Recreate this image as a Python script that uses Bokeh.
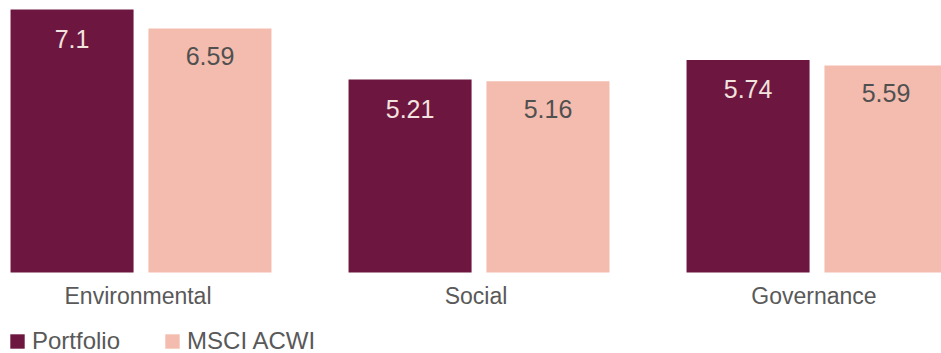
from bokeh.plotting import figure
from bokeh.models import ColumnDataSource, Range1d, Legend, LegendItem
from bokeh.core.properties import value
from bokeh.embed import file_html
from bokeh.resources import INLINE
from bokeh.transform import dodge

categories = ["Environmental", "Social", "Governance"]
portfolio = [7.1, 5.21, 5.74]
msci = [6.59, 5.16, 5.59]
series_names = ["Portfolio", "MSCI ACWI"]

FONT = "Liberation Sans"
C_PORT = "#6d1640"
C_MSCI = "#f4bcae"

xs = list(range(len(categories)))
src = ColumnDataSource(dict(
    x=xs,
    cat=categories,
    portfolio=portfolio,
    msci=msci,
    plabel=[f"{v:g}" for v in portfolio],
    mlabel=[f"{v:g}" for v in msci],
))

p = figure(width=941, height=353,
           x_range=Range1d(-0.4157, 2.3683), y_range=Range1d(-2.187, 7.343),
           output_backend="svg", toolbar_location=None,
           x_axis_location=None, y_axis_location=None,
           min_border_left=0, min_border_right=0, min_border_top=0, min_border_bottom=0)
p.grid.visible = False
p.outline_line_color = None

off = 0.204
bw = 0.364
r1 = p.vbar(x=dodge('x', -off, range=p.x_range), top='portfolio', bottom=0, width=bw,
            source=src, fill_color=C_PORT, line_color=None)
r2 = p.vbar(x=dodge('x', off, range=p.x_range), top='msci', bottom=0, width=bw,
            source=src, fill_color=C_MSCI, line_color=None)

p.text(x=dodge('x', -off, range=p.x_range), y='portfolio', text='plabel', source=src,
       text_align='center', text_baseline='alphabetic', y_offset=29,
       text_font_size='25px', text_color='#f3e3de', text_font=value(FONT))
p.text(x=dodge('x', off, range=p.x_range), y='msci', text='mlabel', source=src,
       text_align='center', text_baseline='alphabetic', y_offset=28,
       text_font_size='25px', text_color='#505050', text_font=value(FONT))

# category labels under each group
p.text(x='x', y=0, text='cat', source=src,
       text_align='center', text_baseline='alphabetic', y_offset=24, x_offset=-3,
       text_font_size='23px', text_color='#595959', text_font=value(FONT))

legend = Legend(items=[LegendItem(label=series_names[0], renderers=[r1]),
                       LegendItem(label=series_names[1], renderers=[r2])],
                orientation="horizontal", location=(8, -2),
                glyph_width=18, glyph_height=18, label_standoff=6, spacing=43,
                label_text_font_size="24px", label_text_color="#595959",
                label_text_font=FONT, label_text_line_height=1.0,
                padding=0, margin=0,
                border_line_color=None, background_fill_alpha=0)
p.add_layout(legend)

open("out.html", "w").write(file_html(p, INLINE))
